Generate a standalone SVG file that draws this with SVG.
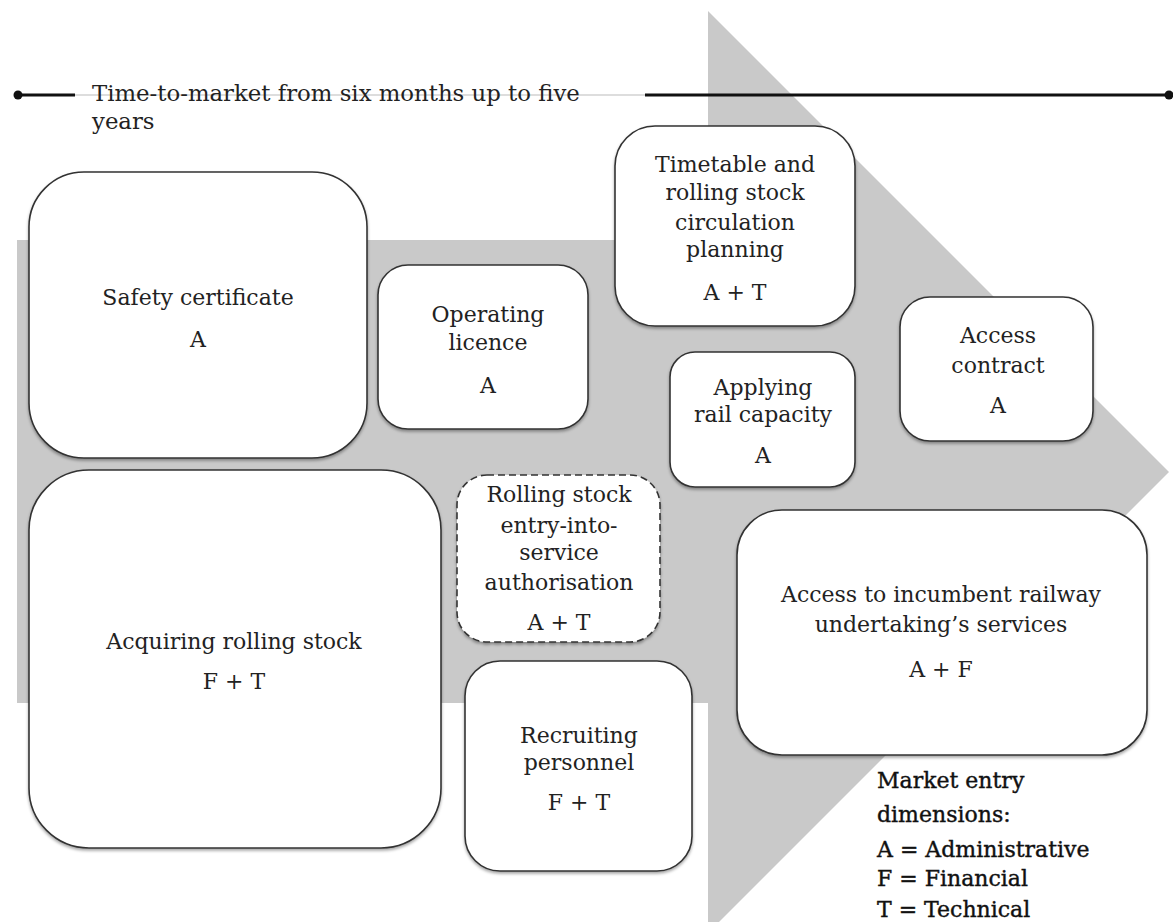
<svg xmlns="http://www.w3.org/2000/svg" width="1173" height="922" viewBox="0 0 1173 922">
<style>
.box{fill:#fff;stroke:#333;stroke-width:1.6;filter:url(#sh)}
.dash{stroke-dasharray:7 4}
.t{font-family:"DejaVu Serif","Liberation Serif",serif;font-size:22px;fill:#222;text-anchor:middle}
.lg{font-family:"DejaVu Serif","Liberation Serif",serif;font-size:22px;fill:#111;stroke:#111;stroke-width:0.4}
.tl{font-family:"DejaVu Serif","Liberation Serif",serif;font-size:22.8px;fill:#222}
</style>
<defs>
<filter id="sh" x="-5%" y="-5%" width="110%" height="115%">
<feDropShadow dx="0" dy="2" stdDeviation="1.5" flood-color="#000" flood-opacity="0.35"/>
</filter>
</defs>
<rect width="1173" height="922" fill="#fff"/>
<polygon id="arrow" points="17,240 708,240 708,11 1169,472 708,933 708,703 17,703" fill="#c9c9c9"/>
<g id="connectors">
<line x1="75" y1="95" x2="645" y2="95" stroke="#ddd" stroke-width="2"/>
<line x1="18" y1="95" x2="75" y2="95" stroke="#111" stroke-width="3"/>
<line x1="645" y1="95" x2="1169" y2="95" stroke="#111" stroke-width="3"/>
<circle cx="18" cy="95" r="4.5" fill="#111"/>
<circle cx="1169" cy="95" r="4.5" fill="#111"/>
</g>
<g id="timeline-label">
<text class="tl" x="92" y="101">Time-to-market from six months up to five</text>
<text class="tl" x="92" y="129">years</text>
</g>
<g id="safety">
<rect class="box" x="29" y="172" width="338" height="286" rx="55"/>
<text class="t" x="198" y="305">Safety certificate</text>
<text class="t" x="198" y="347">A</text>
</g>
<g id="operating">
<rect class="box" x="378" y="265" width="210" height="164" rx="30"/>
<text class="t" x="488" y="322">Operating</text>
<text class="t" x="488" y="350">licence</text>
<text class="t" x="488" y="393">A</text>
</g>
<g id="timetable">
<rect class="box" x="615" y="126" width="240" height="200" rx="40"/>
<text class="t" x="735" y="172">Timetable and</text>
<text class="t" x="735" y="200">rolling stock</text>
<text class="t" x="735" y="230">circulation</text>
<text class="t" x="735" y="257">planning</text>
<text class="t" x="735" y="300">A + T</text>
</g>
<g id="applying">
<rect class="box" x="670" y="352" width="185" height="135" rx="25"/>
<text class="t" x="763" y="395">Applying</text>
<text class="t" x="763" y="422">rail capacity</text>
<text class="t" x="763" y="463">A</text>
</g>
<g id="access-contract">
<rect class="box" x="900" y="297" width="193" height="144" rx="30"/>
<text class="t" x="998" y="343">Access</text>
<text class="t" x="998" y="373">contract</text>
<text class="t" x="998" y="413">A</text>
</g>
<g id="authorisation">
<rect class="box dash" x="457" y="475" width="203" height="167" rx="30"/>
<text class="t" x="559" y="502">Rolling stock</text>
<text class="t" x="559" y="533">entry-into-</text>
<text class="t" x="559" y="560">service</text>
<text class="t" x="559" y="590">authorisation</text>
<text class="t" x="559" y="630">A + T</text>
</g>
<g id="acquiring">
<rect class="box" x="29" y="470" width="412" height="378" rx="60"/>
<text class="t" x="234" y="649">Acquiring rolling stock</text>
<text class="t" x="234" y="689">F + T</text>
</g>
<g id="recruiting">
<rect class="box" x="465" y="661" width="227" height="210" rx="35"/>
<text class="t" x="579" y="743">Recruiting</text>
<text class="t" x="579" y="770">personnel</text>
<text class="t" x="579" y="810">F + T</text>
</g>
<g id="incumbent">
<rect class="box" x="737" y="510" width="410" height="245" rx="45"/>
<text class="t" x="941" y="602">Access to incumbent railway</text>
<text class="t" x="941" y="632">undertaking’s services</text>
<text class="t" x="941" y="677">A + F</text>
</g>
<g id="legend">
<text class="lg" x="877" y="788">Market entry</text>
<text class="lg" x="877" y="822">dimensions:</text>
<text class="lg" x="877" y="857">A = Administrative</text>
<text class="lg" x="877" y="886">F = Financial</text>
<text class="lg" x="877" y="917">T = Technical</text>
</g>
</svg>
